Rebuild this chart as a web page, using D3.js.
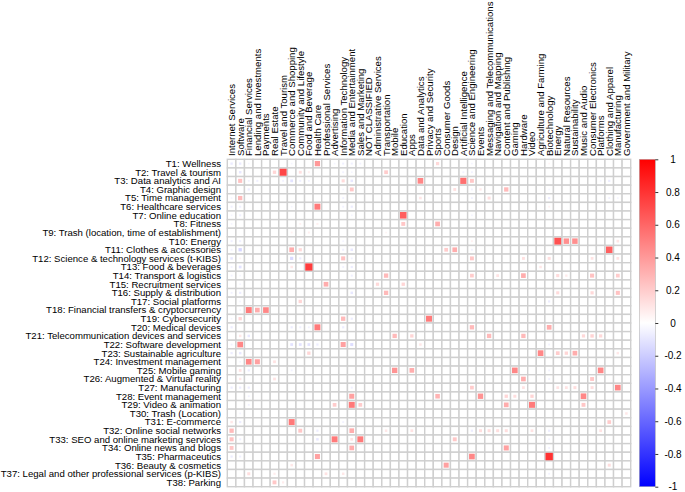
<!DOCTYPE html>
<html><head><meta charset="utf-8">
<script src="https://cdn.jsdelivr.net/npm/d3@7"></script>
<style>
body{margin:0;background:#fff;}
text{font-family:"Liberation Sans",Arial,sans-serif;fill:#000;}
</style>
</head><body><svg id="c" width="685" height="492"></svg>
<script>
const topics = [
 "T1: Wellness","T2: Travel & tourism","T3: Data analytics and AI","T4: Graphic design",
 "T5: Time management","T6: Healthcare services","T7: Online education","T8: Fitness",
 "T9: Trash (location, time of establishment)","T10: Energy","T11: Clothes & accessories",
 "T12: Science & technology services (t-KIBS)","T13: Food & beverages","T14: Transport & logistics",
 "T15: Recruitment services","T16: Supply & distribution","T17: Social platforms",
 "T18: Financial transfers & cryptocurrency","T19: Cybersecurity","T20: Medical devices",
 "T21: Telecommunication devices and services","T22: Software development","T23: Sustainable agriculture",
 "T24: Investment management","T25: Mobile gaming","T26: Augmented  & Virtual reality",
 "T27: Manufacturing","T28: Event management","T29: Video & animation","T30: Trash (Location)",
 "T31: E-commerce","T32: Online social networks","T33: SEO and online marketing services",
 "T34: Online news and blogs","T35: Pharmaceutics","T36: Beauty & cosmetics",
 "T37: Legal and other professional services (p-KIBS)","T38: Parking"
];
const industries = [
 "Internet Services","Software","Financial Services","Lending and Investments","Payments",
 "Real Estate","Travel and Tourism","Commerce and Shopping","Community and Lifestyle",
 "Food and Beverage","Health Care","Professional Services","Advertising","Information Technology",
 "Media and Entertainment","Sales and Marketing","NOT CLASSIFIED","Administrative Services",
 "Transportation","Mobile","Education","Apps","Data and Analytics","Privacy and Security","Sports",
 "Consumer Goods","Design","Artificial Intelligence","Science and Engineering","Events",
 "Messaging and Telecommunications","Navigation and Mapping","Content and Publishing","Gaming",
 "Hardware","Video","Agriculture and Farming","Biotechnology","Energy","Natural Resources",
 "Sustainability","Music and Audio","Consumer Electronics","Platforms","Clothing and Apparel",
 "Manufacturing","Government and Military"
];
// [topic number, industry number, correlation]
const cells = [
 [1,1,-0.08],[1,2,-0.08],[1,3,-0.04],[1,8,-0.04],[1,11,0.4],[1,13,-0.04],[1,14,-0.06],[1,15,-0.06],[1,16,-0.05],[1,25,0.15],[1,29,-0.04],[1,38,0.04],
 [2,2,-0.09],[2,6,0.16],[2,7,0.72],[2,9,0.12],[2,10,0.06],[2,14,-0.05],[2,15,-0.04],[2,19,0.2],[2,28,-0.05],[2,29,-0.05],
 [3,2,0.24],[3,3,-0.05],[3,4,-0.06],[3,7,-0.05],[3,8,-0.11],[3,9,-0.06],[3,10,-0.05],[3,14,0.14],[3,15,-0.09],[3,23,0.47],[3,28,0.56],[3,29,0.22],[3,45,-0.07],[3,44,-0.04],
 [4,3,-0.07],[4,14,-0.04],[4,15,0.22],[4,27,0.12],[4,29,-0.05],[4,30,0.08],[4,33,0.27],[4,38,-0.04],
 [5,1,-0.04],[5,2,0.27],[5,14,-0.05],[5,23,0.1],[5,29,-0.05],[5,31,0.13],[5,38,-0.07],[5,45,-0.05],[5,46,-0.04],
 [6,1,-0.06],[6,2,-0.06],[6,8,-0.04],[6,11,0.52],[6,14,-0.05],[6,15,-0.07],[6,38,0.05],
 [7,1,-0.04],[7,2,-0.06],[7,15,-0.04],[7,21,0.63],[7,29,-0.04],
 [8,1,-0.04],[8,9,0.05],[8,11,0.06],[8,21,0.22],[8,25,0.32],
 [9,8,0.05],[9,10,0.06],[9,19,0.04],
 [10,1,-0.06],[10,2,-0.06],[10,14,-0.04],[10,29,0.05],[10,39,0.68],[10,40,0.44],[10,41,0.44],[10,46,0.1],
 [11,1,-0.05],[11,2,-0.16],[11,8,0.32],[11,9,0.15],[11,14,-0.06],[11,15,-0.09],[11,26,0.2],[11,27,0.32],[11,29,-0.05],[11,45,0.62],
 [12,1,-0.09],[12,2,0.05],[12,8,-0.15],[12,9,-0.07],[12,14,0.24],[12,15,-0.05],[12,29,0.22],[12,35,0.12],[12,38,0.13],[12,43,0.11],[12,46,0.11],
 [13,1,-0.05],[13,2,-0.11],[13,8,0.09],[13,10,0.76],[13,14,-0.05],[13,15,-0.07],[13,37,0.09],
 [14,1,-0.05],[14,2,-0.04],[14,15,-0.06],[14,19,0.27],[14,29,0.2],[14,32,0.11],[14,35,0.32],[14,39,0.14],[14,40,0.08],[14,43,0.24],[14,46,0.2],
 [15,12,0.32],[15,18,0.15],[15,21,0.16],[15,2,-0.04],
 [16,1,-0.05],[16,2,-0.07],[16,15,-0.09],[16,19,0.27],[16,39,0.14],[16,43,0.15],[16,46,0.24],
 [17,9,0.16],[17,38,-0.07],[17,2,-0.04],
 [18,3,0.52],[18,4,0.32],[18,5,0.47],[18,2,-0.04],
 [19,2,0.16],[19,14,0.27],[19,15,-0.07],[19,24,0.52],[19,1,-0.04],
 [20,1,-0.07],[20,8,-0.07],[20,9,-0.06],[20,10,-0.05],[20,11,0.52],[20,14,-0.07],[20,29,0.27],[20,38,0.32],
 [21,2,0.09],[21,3,-0.09],[21,20,0.27],[21,22,0.16],[21,31,0.27],[21,35,0.27],[21,42,0.15],[21,43,0.17],[21,44,0.15],
 [22,1,-0.05],[22,2,0.47],[22,8,-0.11],[22,9,-0.11],[22,10,-0.11],[22,11,-0.07],[22,14,0.37],[22,15,-0.13],[22,23,0.09],[22,38,-0.05],
 [23,1,-0.07],[23,2,-0.09],[23,10,0.16],[23,37,0.47],[23,39,0.2],[23,40,0.16],[23,41,0.32],[23,46,0.09],
 [24,3,0.47],[24,4,0.37],[24,6,0.11],[24,2,-0.04],
 [25,2,0.11],[25,3,-0.07],[25,8,-0.05],[25,20,0.42],[25,22,0.32],[25,34,0.47],[25,44,0.47],[25,38,-0.05],
 [26,2,0.09],[26,6,0.11],[26,35,0.32],[26,43,0.22],[26,38,-0.05],
 [27,1,-0.07],[27,2,-0.07],[27,3,-0.07],[27,15,-0.06],[27,29,0.2],[27,35,0.11],[27,39,0.11],[27,40,0.11],[27,41,0.13],[27,43,0.13],[27,46,0.47],
 [28,15,0.37],[28,25,0.3],[28,30,0.42],[28,33,0.16],[28,34,0.13],[28,36,0.16],[28,42,0.47],[28,3,-0.05],
 [29,3,-0.05],[29,13,0.2],[29,15,0.52],[29,16,0.2],[29,33,0.32],[29,36,0.52],[29,42,0.22],
 [30,47,0.09],[30,2,-0.04],
 [31,1,0.09],[31,2,-0.07],[31,8,0.52],[31,45,0.2],[31,14,-0.05],
 [32,1,0.27],[32,9,0.22],[32,11,-0.07],[32,15,0.32],[32,19,0.09],[32,22,0.11],[32,29,-0.07],[32,30,0.13],[32,31,0.13],[32,32,0.13],[32,33,0.13],[32,36,0.11],[32,38,-0.07],[32,44,0.11],
 [33,1,0.24],[33,2,-0.06],[33,11,-0.09],[33,13,0.52],[33,15,0.11],[33,16,0.52],[33,27,0.22],[33,38,-0.05],
 [34,1,0.22],[34,15,0.32],[34,33,0.37],[34,38,-0.05],
 [35,1,-0.07],[35,2,-0.06],[35,11,0.37],[35,29,0.47],[35,38,0.8],
 [36,8,0.09],[36,26,0.37],[36,45,0.13],
 [37,3,0.13],[37,6,0.07],[37,12,0.11],[37,14,0.09],[37,38,-0.05],
 [38,6,0.22],[38,7,0.07]
];
const legendTicks = [1,0.8,0.6,0.4,0.2,0,-0.2,-0.4,-0.6,-0.8,-1];

const svg = d3.select("#c");
const x = d3.scaleBand().domain(industries).range([227.3, 630.7]);
const y = d3.scaleBand().domain(topics).range([159.3, 486.7]);
const color = d3.scaleLinear().domain([-1,0,1]).range(["#0000FF","#FFFFFF","#FF0000"]);
const bw = x.bandwidth(), bh = y.bandwidth();
const side = d3.scaleSqrt().domain([0,1]).range([0, Math.min(bw,bh)-0.3]);

const matrix = topics.map(() => industries.map(() => 0));
cells.forEach(([r,c,v]) => { matrix[r-1][c-1] = v; });
const flat = [];
matrix.forEach((row,i) => row.forEach((v,j) => flat.push({t:topics[i], ind:industries[j], v})));

// grid cells
svg.append("g").selectAll("rect").data(flat).join("rect")
  .attr("x", d => x(d.ind)).attr("y", d => y(d.t))
  .attr("width", bw).attr("height", bh)
  .attr("fill", "#fff").attr("stroke", "#cfcfcf").attr("stroke-width", 1.4);

// squares
svg.append("g").selectAll("rect").data(flat.filter(d => d.v !== 0)).join("rect")
  .attr("x", d => x(d.ind) + bw/2 - side(Math.abs(d.v))/2)
  .attr("y", d => y(d.t) + bh/2 - side(Math.abs(d.v))/2)
  .attr("width", d => side(Math.abs(d.v)))
  .attr("height", d => side(Math.abs(d.v)))
  .attr("fill", d => color(d.v));

// column labels
svg.append("g").selectAll("text").data(industries).join("text")
  .attr("transform", d => `translate(${x(d) + bw/2 + 3.5},156) rotate(-90)`)
  .attr("text-anchor", "start").attr("font-size", "9.6px").text(d => d);

// row labels
svg.append("g").selectAll("text").data(topics).join("text")
  .attr("x", 221).attr("y", d => y(d) + bh/2).attr("dy", "0.35em")
  .attr("text-anchor", "end").attr("font-size", "9.6px").text(d => d);

// colour legend
const ly = d3.scaleLinear().domain([-1,1]).range([486.7,159.3]);
const defs = svg.append("defs");
const grad = defs.append("linearGradient").attr("id","lg").attr("x1",0).attr("x2",0).attr("y1",0).attr("y2",1);
[1,0.5,0,-0.5,-1].forEach(v => grad.append("stop").attr("offset", ((1-v)/2*100)+"%").attr("stop-color", color(v)));
svg.append("rect").attr("x",639.3).attr("y",ly(1)).attr("width",16).attr("height",ly(-1)-ly(1))
  .attr("fill","url(#lg)").attr("stroke","#aaa").attr("stroke-width",0.5);
const axis = d3.axisRight(ly).tickValues(legendTicks).tickSize(3).tickFormat(d => String(d));
const ag = svg.append("g").attr("transform","translate(655.3,0)").call(axis);
ag.select(".domain").remove();
ag.selectAll(".tick line").attr("stroke","#333");
ag.selectAll(".tick text").attr("x",17.7).attr("text-anchor","middle")
  .attr("font-size","10px").attr("font-family","Liberation Sans, Arial, sans-serif").attr("fill","#000");
</script>
</body></html>
